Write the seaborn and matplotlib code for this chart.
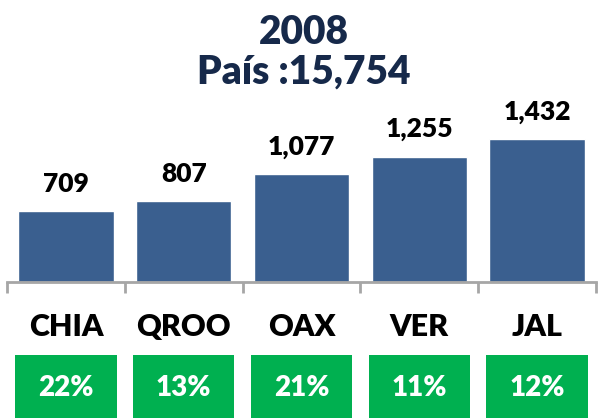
import matplotlib
matplotlib.use('Agg')
import matplotlib.pyplot as plt
import seaborn as sns
from matplotlib.patches import Rectangle

# data
states = ['CHIA', 'QROO', 'OAX', 'VER', 'JAL']
values = [709, 807, 1077, 1255, 1432]
shares = ['22%', '13%', '21%', '11%', '12%']
year = '2008'
country_total = 'País :15,754'

bar_color = '#3A5F8F'
green = '#00B050'
navy = '#16294A'
font = 'Lato'
weight = 'heavy'

sns.set_style('white')
plt.rcParams['font.family'] = [font, 'DejaVu Sans']

fig = plt.figure(figsize=(6.01, 4.18), dpi=100)
ax = fig.add_axes([7 / 601, (418 - 282) / 418, 589 / 601, 182 / 418])

sns.barplot(x=states, y=values, color=bar_color, saturation=1, width=0.81, ax=ax)
ax.set_xlim(-0.5, len(states) - 0.5)
ax.set_ylim(0, 1820)

# value labels on top of bars
for i, v in enumerate(values):
    ax.annotate(f'{v:,}', xy=(i, v), xytext=(0, 14), textcoords='offset points',
                ha='center', va='baseline', fontsize=19, fontweight=weight, color='black')

# axis look
for s in ['top', 'right', 'left']:
    ax.spines[s].set_visible(False)
ax.spines['bottom'].set_color('#A6A6A6')
ax.spines['bottom'].set_linewidth(2)
ax.set_yticks([])
ax.set_xticks([])
ax.set_xticks([i - 0.5 for i in range(len(states) + 1)], minor=True)
ax.tick_params(axis='x', which='minor', bottom=True, direction='out', length=8, width=2,
               color='#A6A6A6', labelbottom=False)

# category labels and green share boxes below the axis
for i, (st, sh) in enumerate(zip(states, shares)):
    ax.text(i, -450, st, ha='center', va='center', fontsize=22, fontweight=weight,
            color='black', clip_on=False)
    ax.add_patch(Rectangle((i - 0.43, -1450), 0.86, 720, facecolor=green,
                           edgecolor='none', clip_on=False))
    ax.text(i, -1060, sh, ha='center', va='center', fontsize=20, fontweight=weight,
            color='white', clip_on=False)

fig.text(0.505, 1 - 32 / 418, year, ha='center', va='center', fontsize=28,
         fontweight=weight, color=navy)
fig.text(0.505, 1 - 72 / 418, country_total, ha='center', va='center', fontsize=28,
         fontweight=weight, color=navy)

fig.savefig('out.png', dpi=100)
